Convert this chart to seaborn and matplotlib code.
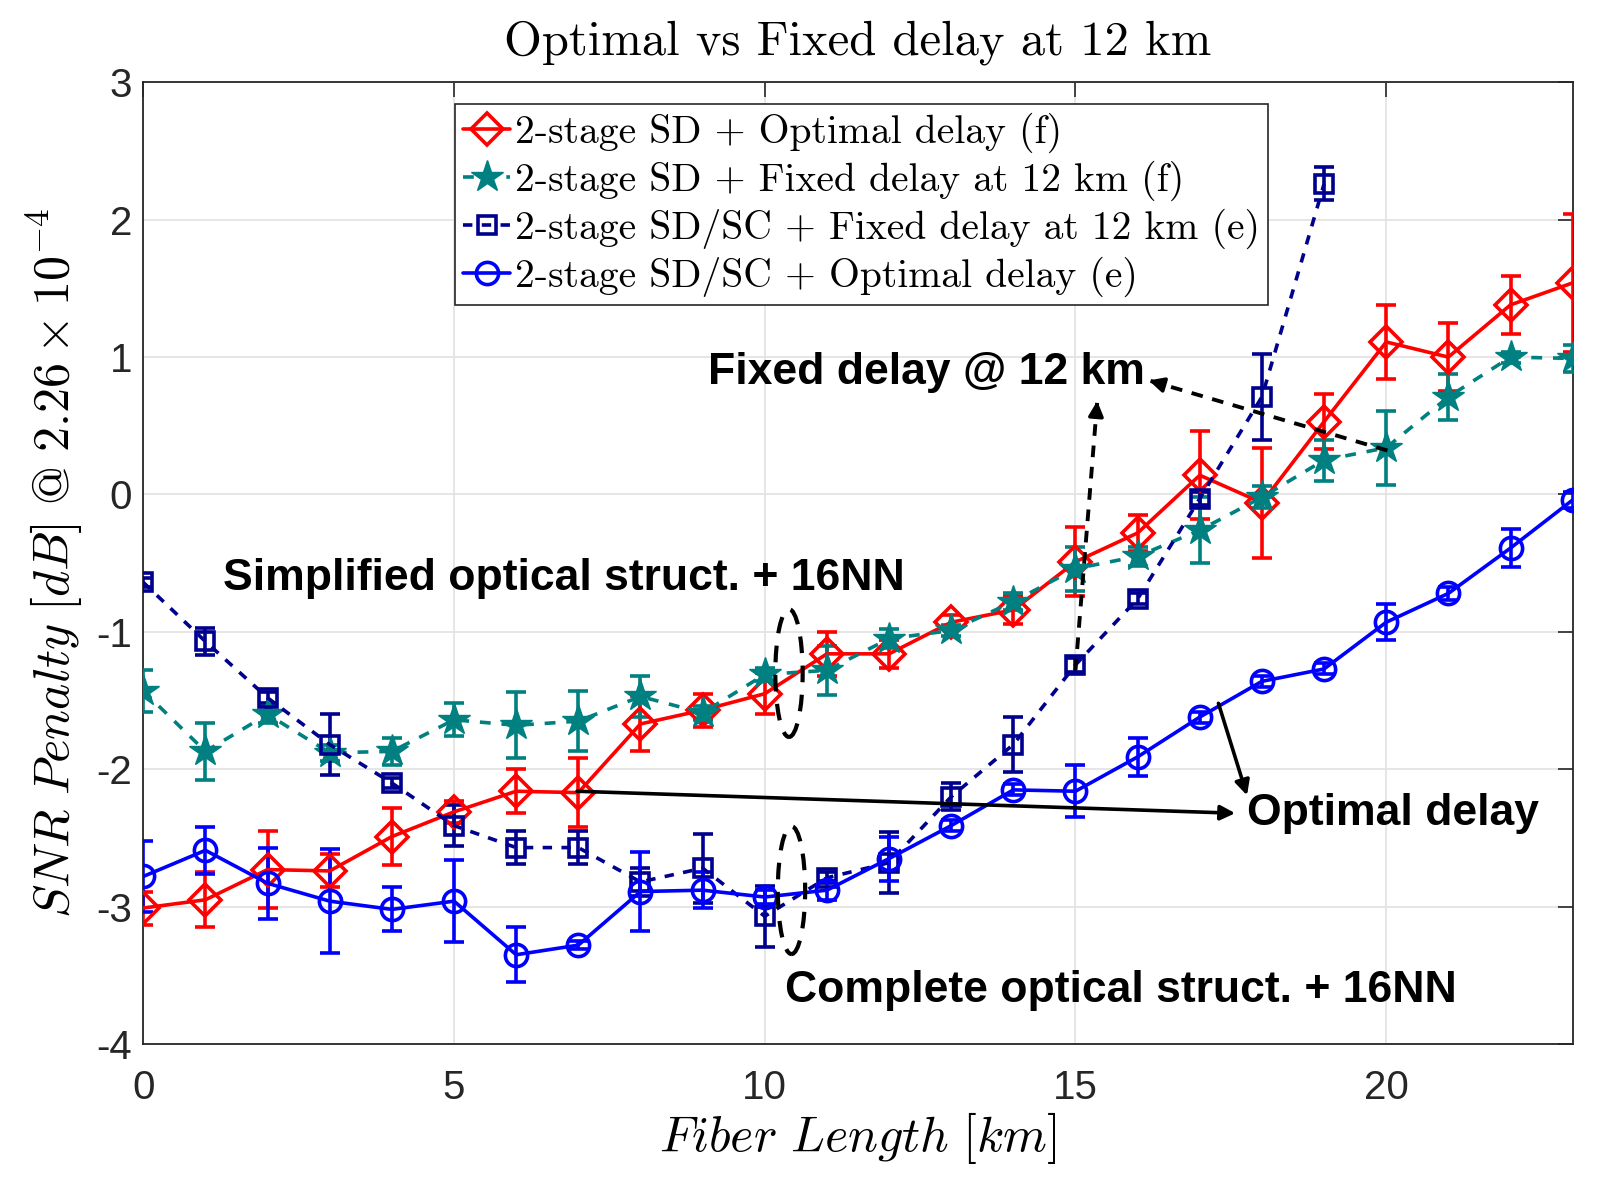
import numpy as np
import pandas as pd
import matplotlib
matplotlib.use("Agg")
import matplotlib.pyplot as plt
from matplotlib.patches import Ellipse
import seaborn as sns

# ---------------- data ----------------
km = list(range(24))
km_navy = list(range(20))

red_y = [-3.01, -2.95, -2.73, -2.74, -2.49, -2.31, -2.16, -2.17, -1.67, -1.57, -1.45, -1.16,
         -1.16, -0.93, -0.84, -0.49, -0.28, 0.14, -0.06, 0.53, 1.11, 1.00, 1.38, 1.54]
red_err = [0.12, 0.20, 0.28, 0.12, 0.21, 0.08, 0.16, 0.25, 0.20, 0.12, 0.15, 0.16,
           0.10, 0.05, 0.10, 0.25, 0.13, 0.32, 0.40, 0.20, 0.27, 0.25, 0.21, 0.50]

teal_y = [-1.43, -1.87, -1.60, -1.88, -1.87, -1.64, -1.68, -1.65, -1.47, -1.59, -1.31, -1.28,
          -1.05, -0.99, -0.78, -0.54, -0.45, -0.26, -0.02, 0.25, 0.34, 0.71, 1.00, 0.99]
teal_err = [0.15, 0.21, 0.06, 0.06, 0.10, 0.12, 0.24, 0.22, 0.15, 0.05, 0.05, 0.18,
            0.07, 0.04, 0.06, 0.16, 0.07, 0.24, 0.08, 0.15, 0.27, 0.17, 0.04, 0.10]

navy_y = [-0.64, -1.07, -1.48, -1.82, -2.10, -2.41, -2.57, -2.57, -2.82, -2.72, -3.07, -2.79,
          -2.68, -2.20, -1.82, -1.24, -0.76, -0.03, 0.71, 2.26]
navy_err = [0.03, 0.10, 0.04, 0.22, 0.04, 0.15, 0.12, 0.12, 0.10, 0.25, 0.22, 0.04,
            0.22, 0.10, 0.20, 0.05, 0.04, 0.05, 0.31, 0.12]

blue_y = [-2.78, -2.59, -2.83, -2.96, -3.02, -2.96, -3.35, -3.28, -2.89, -2.88, -2.93, -2.88,
          -2.65, -2.41, -2.15, -2.16, -1.91, -1.62, -1.36, -1.27, -0.93, -0.72, -0.39, -0.04]
blue_err = [0.26, 0.17, 0.26, 0.38, 0.16, 0.30, 0.20, 0.03, 0.29, 0.13, 0.05, 0.07,
            0.16, 0.04, 0.04, 0.19, 0.14, 0.04, 0.04, 0.04, 0.13, 0.05, 0.14, 0.06]

labels = ["2-stage SD + Optimal delay (f)",
          "2-stage SD + Fixed delay at 12 km (f)",
          "2-stage SD/SC + Fixed delay at 12 km (e)",
          "2-stage SD/SC + Optimal delay (e)"]

x_ticks = [0, 5, 10, 15, 20]
y_ticks = [-4, -3, -2, -1, 0, 1, 2, 3]

# ---------------- style ----------------
sns.set_theme(style="whitegrid")
plt.rcParams["font.family"] = ["Liberation Sans", "DejaVu Sans"]
plt.rcParams["mathtext.fontset"] = "cm"
plt.rcParams["axes.unicode_minus"] = False

fig = plt.figure(figsize=(16.01, 11.84), dpi=100)
ax = fig.add_axes([0.0895, 0.1182, 0.8928, 0.8123])
ax.set_facecolor("white")

series = [
    (km, red_y, red_err, "#ff0000", "D", 16.5, "-"),
    (km, teal_y, teal_err, "#008080", "*", 24, (0, (3, 3))),
    (km_navy, navy_y, navy_err, "#00008f", "s", 13, (0, (2.6, 2.6))),
    (km, blue_y, blue_err, "#0000ff", "o", 16, "-"),
]

handles = []
for (xs, ys, es, c, mk, ms, ls), lab in zip(series, labels):
    ax.errorbar(xs, ys, yerr=es, fmt="none", ecolor=c, elinewidth=2.6,
                capsize=7, capthick=2.6, zorder=3)
    df = pd.DataFrame({"x": xs, "y": ys})
    filled = (mk == "*")
    sns.lineplot(data=df, x="x", y="y", ax=ax, color=c, marker=mk,
                 markersize=ms,
                 markerfacecolor=(c if filled else "none"),
                 markeredgecolor=c, markeredgewidth=(1.0 if filled else 2.6),
                 linewidth=2.6, linestyle=ls, errorbar=None, sort=False, zorder=4)
    handles.append(ax.lines[-1])

# ---------------- axes ----------------
ax.set_xlim(0, 23)
ax.set_ylim(-4, 3)
ax.set_xticks(x_ticks)
ax.set_yticks(y_ticks)
ax.set_xticklabels([str(v) for v in x_ticks])
ax.set_yticklabels([str(v) for v in y_ticks])
ax.grid(True, color="#e2e2e2", linewidth=1.2)
for s in ax.spines.values():
    s.set_color("#262626")
    s.set_linewidth(1.3)
ax.tick_params(axis="both", which="both", direction="in", length=11, width=1.2,
               colors="#262626", labelsize=29, top=True, right=True)
ax.tick_params(axis="x", pad=18)
ax.tick_params(axis="y", pad=8)

ax.set_title("Optimal vs Fixed delay at 12 km", fontfamily="cmr10", fontsize=35,
             pad=20, color="black")
ax.set_xlabel(r"$Fiber\ Length\ [km]$", fontsize=36, labelpad=2, color="black")
ax.set_ylabel(r"$SNR\ Penalty\ [dB]\ @\ 2.26\times 10^{-4}$", fontsize=36,
              labelpad=8, color="black")

leg = ax.legend(handles, labels, loc="upper left", bbox_to_anchor=(0.218, 0.977),
                borderaxespad=0, prop={"family": "cmr10", "size": 28.5},
                handlelength=1.2, handletextpad=0.12, labelspacing=0.2,
                borderpad=0.2, fancybox=False, framealpha=1, edgecolor="#262626")
leg.get_frame().set_linewidth(1.2)
for t in leg.get_texts():
    t.set_color("black")

# ---------------- annotations ----------------
tkw = dict(fontsize=32, fontweight="bold", color="black", va="center", ha="left")
ax.text(1.28, -0.61, "Simplified optical struct. + 16NN", **tkw)
ax.text(10.33, -3.61, "Complete optical struct. + 16NN", **tkw)
ax.text(9.09, 0.89, "Fixed delay @ 12 km", **tkw)
ax.text(17.76, -2.32, "Optimal delay", **tkw)

solid = dict(arrowstyle="-|>", color="black", lw=2.6, mutation_scale=22,
             shrinkA=0, shrinkB=0)
ax.annotate("", xy=(17.57, -2.32), xytext=(6.98, -2.16), arrowprops=solid, zorder=5)
ax.annotate("", xy=(17.76, -2.19), xytext=(17.30, -1.52), arrowprops=solid, zorder=5)

def dashed_arrow(x0, y0, x1, y1):
    ax.plot([x0, x1], [y0, y1], color="black", lw=2.8, ls=(0, (3, 2.5)), zorder=5)
    xa = x1 - 0.06 * (x1 - x0)
    ya = y1 - 0.06 * (y1 - y0)
    ax.annotate("", xy=(x1, y1), xytext=(xa, ya), arrowprops=solid, zorder=5)

dashed_arrow(20.02, 0.32, 16.18, 0.83)
dashed_arrow(15.0, -1.28, 15.35, 0.68)

for cx, cy in [(10.39, -1.30), (10.43, -2.88)]:
    ax.add_patch(Ellipse((cx, cy), 0.44, 0.93, fill=False, ec="black", lw=3,
                         ls=(0, (4, 3)), zorder=6))

fig.savefig("out.png", dpi=100, facecolor="white")
